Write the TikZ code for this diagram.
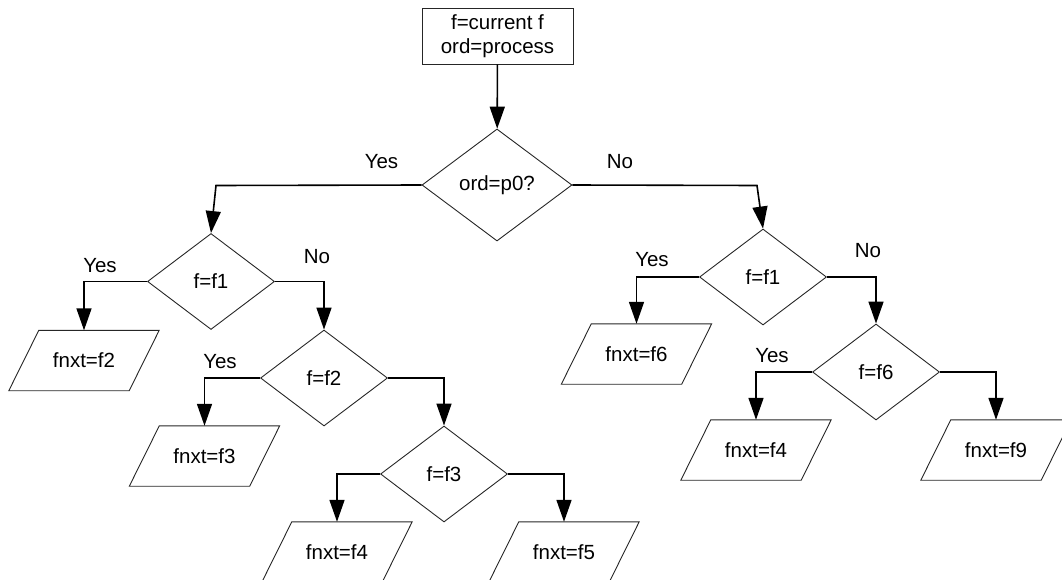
\documentclass[tikz,border=0pt]{standalone}
\usepackage{fontspec}
\setmainfont{Liberation Sans}
\usetikzlibrary{shapes.geometric,arrows.meta}
\begin{document}
\begin{tikzpicture}[x=1pt,y=-1pt,
  every node/.style={font=\fontsize{20.5}{24}\selectfont},
  dec/.style={diamond, draw=black!85, line width=0.9pt, minimum width=127pt, minimum height=96pt, inner sep=0pt},
  io/.style={rectangle, minimum width=120pt, minimum height=60pt, inner sep=0pt},
  iodraw/.style={draw=black!85, line width=0.9pt, line join=miter},
  proc/.style={rectangle, draw=black!85, line width=0.9pt, minimum width=151pt, minimum height=56pt, inner sep=0pt, align=center},
  conn/.style={line width=1.6pt, -{Triangle[length=22pt,width=15pt]}},
  lbl/.style={inner sep=0pt}]
\useasboundingbox (0,0) rectangle (1062,580);
% nodes
\node[proc] (box) at (497.5,36) {f=current f\\ord=process};
\node[dec, minimum width=150pt, minimum height=112pt] (d0) at (497,185) {ord=p0?};
\node[dec] (d1) at (211,281.5) {f=f1};
\node[io] (p1) at (84,360.5) {fnxt=f2};
\node[dec] (d2) at (324,378) {f=f2};
\node[io] (p2) at (204.5,456) {fnxt=f3};
\node[dec] (d3) at (444,474) {f=f3};
\node[io] (p3) at (337,552) {fnxt=f4};
\node[io] (p4) at (564,552) {fnxt=f5};
\node[dec] (d4) at (763,277) {f=f1};
\node[io] (p5) at (636.5,354) {fnxt=f6};
\node[dec] (d5) at (876,372) {f=f6};
\node[io] (p6) at (756,450) {fnxt=f4};
\node[io] (p7) at (996,450) {fnxt=f9};
% parallelogram outlines
\foreach \n in {p1,p2,p3,p4,p5,p6,p7}
  \draw[iodraw] ([xshift=15pt]\n.north west) -- ([xshift=15pt]\n.north east)
     -- ([xshift=-15pt]\n.south east) -- ([xshift=-15pt]\n.south west) -- cycle;
% bend points
\coordinate (lc) at (216,185.5);
\coordinate (rc) at (757,185.5);
% connectors
\draw[conn] (box) -- (d0);
\draw[conn] (d0.west) -- (lc) -- (d1.north);
\draw[conn] (d0.east) -- (rc) -- (d4.north);
\draw[conn] (d1.west) -| (p1);
\draw[conn] (d1.east) -| (d2.north);
\draw[conn] (d2.west) -| (p2);
\draw[conn] (d2.east) -| (d3.north);
\draw[conn] (d3.west) -| (p3);
\draw[conn] (d3.east) -| (p4);
\draw[conn] (d4.west) -| (p5);
\draw[conn] (d4.east) -| (d5.north);
\draw[conn] (d5.west) -| (p6);
\draw[conn] (d5.east) -| (p7);
% labels
\node[lbl] (ly0) at (381.5,161.5) {Yes};
\node[lbl] (ln0) at (620,161.5) {No};
\node[lbl] (ly1) at (100,265.5) {Yes};
\node[lbl] (ln1) at (317,257) {No};
\node[lbl] (ly2) at (220,361.5) {Yes};
\node[lbl] (ly4) at (652,260) {Yes};
\node[lbl] (ln4) at (868,251) {No};
\node[lbl] (ly5) at (772,356) {Yes};
\end{tikzpicture}
\end{document}
